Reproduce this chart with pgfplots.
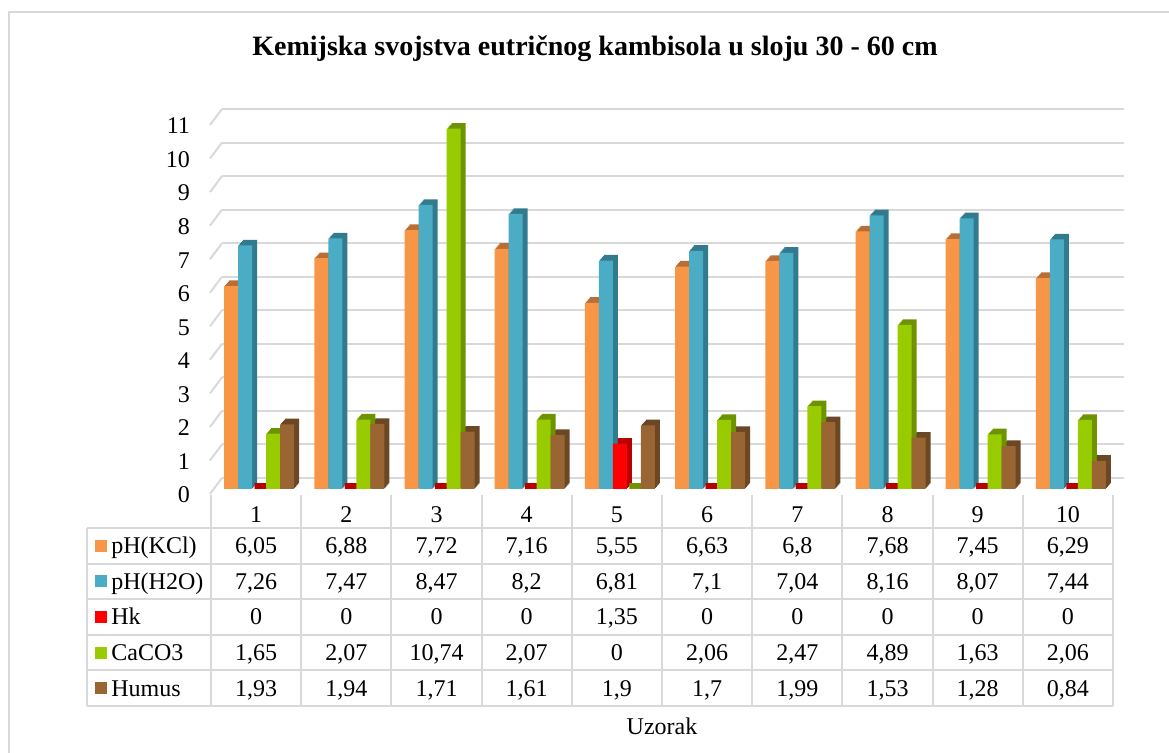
\documentclass[border=0pt]{standalone}
\usepackage{fontspec}
\setmainfont{Liberation Serif}
\usepackage{pgfplots}
\usepackage{pgfplotstable}
\pgfplotsset{compat=1.18}

\definecolor{cKCl}{HTML}{F79646}  \definecolor{cKCld}{HTML}{B86E34}
\definecolor{cH2O}{HTML}{4BACC6}  \definecolor{cH2Od}{HTML}{327A8E}
\definecolor{cHk}{HTML}{FF0000}   \definecolor{cHkd}{HTML}{B80000}
\definecolor{cCa}{HTML}{99CC00}   \definecolor{cCad}{HTML}{6E9300}
\definecolor{cHu}{HTML}{996633}   \definecolor{cHud}{HTML}{6B4724}
\definecolor{gridc}{HTML}{D9D9D9}

% uzorak, pH(KCl), pH(H2O), Hk, CaCO3, humus
\pgfplotstableread{
n  kcl   h2o   hk    caco3  humus
1  6.05  7.26  0     1.65   1.93
2  6.88  7.47  0     2.07   1.94
3  7.72  8.47  0     10.74  1.71
4  7.16  8.2   0     2.07   1.61
5  5.55  6.81  1.35  0      1.9
6  6.63  7.1   0     2.06   1.7
7  6.8   7.04  0     2.47   1.99
8  7.68  8.16  0     4.89   1.53
9  7.45  8.07  0     1.63   1.28
10 6.29  7.44  0     2.06   0.84
}\data

\begin{document}
\begin{tikzpicture}[font=\fontsize{12}{14}\selectfont]
% okvir i naslov (koordinate u pikselima, y prema dolje)
\begin{scope}[x=0.5pt,y=-0.5pt]
\useasboundingbox (0,0) rectangle (1169,753);
\draw[gridc, line width=1pt] (9,753) -- (9,12) -- (1169,12);
\node[font=\bfseries\fontsize{14}{16}\selectfont] at (595,49)
  {Kemijska svojstva eutričnog kambisola u sloju 30 - 60 cm};
\end{scope}

\begin{axis}[
  at={(105.5pt,-244.5pt)}, anchor=south west,
  scale only axis, width=451pt, height=191.2pt,
  xmin=0.5, xmax=10.5, ymin=0, ymax=11.4,
  clip=false,
  axis line style={draw=none},
  major tick style={draw=none},
  xtick=\empty,
  ytick={0,...,11},
  ymajorgrids,
  major grid style={gridc, line width=1pt, xshift=5.5pt, yshift=5.5pt},
  yticklabel style={xshift=-7pt, yshift=-3pt},
  /pgf/number format/assume math mode=true,
  ybar, bar width=7pt,
  every axis plot/.append style={draw=none},
]
% strane stupaca (dubina): nekoliko pomaknutih kopija
\pgfplotsinvokeforeach{0.2,0.4,0.6,0.8,1}{
\addplot[fill=cKCld, bar shift=-12.5pt, xshift=#1*2.5pt, yshift=#1*2.8pt] table[x=n,y=kcl]{\data};
\addplot[fill=cH2Od, bar shift=-5.5pt,  xshift=#1*2.5pt, yshift=#1*2.8pt] table[x=n,y=h2o]{\data};
\addplot[fill=cHkd,  bar shift=1.5pt,   xshift=#1*2.5pt, yshift=#1*2.8pt] table[x=n,y=hk]{\data};
\addplot[fill=cCad,  bar shift=8.5pt,   xshift=#1*2.5pt, yshift=#1*2.8pt] table[x=n,y=caco3]{\data};
\addplot[fill=cHud,  bar shift=15.5pt,  xshift=#1*2.5pt, yshift=#1*2.8pt] table[x=n,y=humus]{\data};
}
% nulte vrijednosti: samo gornja ploha
\addplot[fill=none, draw=cHkd, line width=2.8pt, line join=bevel, bar shift=1.5pt,
  xshift=1.25pt, yshift=1.4pt, restrict y to domain=0:0.01] table[x=n,y=hk]{\data};
\addplot[fill=none, draw=cCad, line width=2.8pt, line join=bevel, bar shift=8.5pt,
  xshift=1.25pt, yshift=1.4pt, restrict y to domain=0:0.01] table[x=n,y=caco3]{\data};
% prednje strane
\addplot[fill=cKCl, bar shift=-12.5pt] table[x=n,y=kcl]{\data};
\addplot[fill=cH2O, bar shift=-5.5pt]  table[x=n,y=h2o]{\data};
\addplot[fill=cHk,  bar shift=1.5pt]   table[x=n,y=hk]{\data};
\addplot[fill=cCa,  bar shift=8.5pt]   table[x=n,y=caco3]{\data};
\addplot[fill=cHu,  bar shift=15.5pt]  table[x=n,y=humus]{\data};
\pgfplotsinvokeforeach{0,...,11}{
  \draw[gridc, line width=1pt] ([shift={(-0.5pt,-2.5pt)}]axis cs:0.5,#1)
    -- ([shift={(5.5pt,5.5pt)}]axis cs:0.5,#1);
}
\end{axis}

% tablica podataka
\begin{scope}[x=0.5pt,y=-0.5pt]
\foreach \i in {0,...,10}
  \draw[gridc, line width=1pt] ({211+90.2*\i},495) -- ({211+90.2*\i},706);
\draw[gridc, line width=1pt] (87,528) -- (87,706);
\foreach \j in {0,...,5}
  \draw[gridc, line width=1pt] (87,{528+35.6*\j}) -- (1113,{528+35.6*\j});
\foreach \i in {1,...,10}
  \node[anchor=base] at ({211+90.2*(\i-0.5)},523) {\i};
\foreach \r/\cn/\lab/\colr in {0/kcl/pH(KCl)/cKCl, 1/h2o/pH(H2O)/cH2O,
    2/hk/Hk/cHk, 3/caco3/CaCO3/cCa, 4/humus/Humus/cHu} {
  \fill[\colr] (95,{528+35.6*(\r+0.5)-6}) rectangle ++(12,12);
  \node[anchor=base west, inner sep=0pt] at (111,{528+35.6*(\r+0.5)+8}) {\lab};
  \foreach \i in {0,...,9} {
    \pgfplotstablegetelem{\i}{\cn}\of\data
    \node[anchor=base] at ({211+90.2*(\i+0.5)},{528+35.6*(\r+0.5)+8})
      {\pgfmathprintnumber[use comma,assume math mode=true]{\pgfplotsretval}};
  }
}
\node[anchor=base] at (662,735) {Uzorak};
\end{scope}
\end{tikzpicture}
\end{document}
